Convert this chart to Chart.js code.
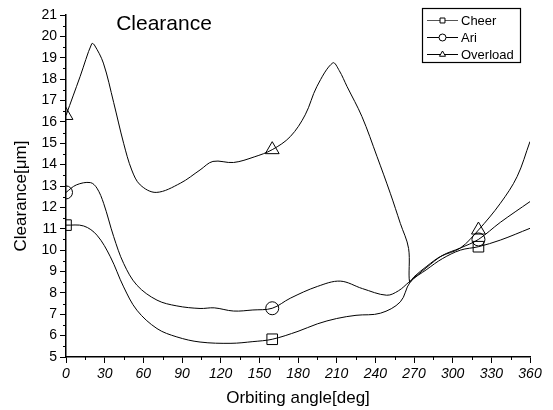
<!DOCTYPE html>
<html>
<head>
<meta charset="utf-8">
<script src="https://cdn.jsdelivr.net/npm/chart.js@4/dist/chart.umd.min.js"></script>
<style>
html,body{margin:0;padding:0;background:#fff;}
#wrap{width:553px;height:410px;position:relative;}
</style>
</head>
<body>
<div id="wrap"><canvas id="c" width="553" height="410"></canvas></div>
<script>
const seriesNames = ["Cheer", "Ari", "Overload"];
const markerAngles = [0, 160, 320];
const xTickValues = [0, 30, 60, 90, 120, 150, 180, 210, 240, 270, 300, 330, 360];
const yTickValues = [5, 6, 7, 8, 9, 10, 11, 12, 13, 14, 15, 16, 17, 18, 19, 20, 21];

const cheerAngles = [0, 13.7, 24, 34.4, 44.7, 55, 70.6, 86, 104, 128, 145, 160, 180, 195, 210, 225, 244, 259.4, 267, 280, 292, 306, 320, 337, 360];
const cheerValues = [11.17, 11.13, 10.7, 9.69, 8.28, 7.19, 6.33, 5.94, 5.7, 5.64, 5.72, 5.83, 6.2, 6.55, 6.8, 6.95, 7.05, 7.58, 8.5, 9.1, 9.6, 10.0, 10.16, 10.47, 11.02];

const ariAngles = [0, 8, 18.9, 24, 29.2, 37, 44.7, 55, 70.6, 86, 104, 115, 130, 145, 160, 174, 195, 212.8, 230, 248.8, 258, 266, 280, 292, 306, 320, 337, 360];
const ariValues = [12.7, 13.05, 13.16, 12.9, 12.19, 10.63, 9.38, 8.36, 7.66, 7.39, 7.27, 7.3, 7.15, 7.2, 7.28, 7.75, 8.3, 8.55, 8.2, 7.89, 8.1, 8.5, 9.2, 9.75, 10.1, 10.5, 11.3, 12.27];

const overloadAngles = [0, 11, 20, 22, 29, 37, 44.7, 51, 57.6, 70, 88.7, 104, 114, 130, 146, 160, 174, 185.6, 194.7, 207, 212, 218, 229.6, 241.3, 251.6, 259.4, 265.8, 266.6, 270, 280, 290.5, 306, 320, 337, 350, 360];
const overloadValues = [16.3, 18.13, 19.66, 19.6, 18.75, 16.9, 15.0, 13.75, 13.05, 12.7, 13.13, 13.75, 14.15, 14.1, 14.36, 14.7, 15.31, 16.33, 17.66, 18.76, 18.4, 17.66, 16.25, 14.38, 12.66, 11.25, 10.08, 8.5, 8.75, 9.25, 9.7, 10.1, 10.94, 12.19, 13.44, 15.08];

const pointStyles = ["rect", "circle", "triangle"];
const markerRadii = [7.5, 6.5, 8];

function toPts(xs, ys) { return xs.map((x, i) => ({ x: x, y: ys[i] })); }
const allAngles = [cheerAngles, ariAngles, overloadAngles];
const allValues = [cheerValues, ariValues, overloadValues];

const FONT = "'Liberation Sans', Arial, Helvetica, sans-serif";

const datasets = seriesNames.map((name, k) => ({
  label: name,
  data: toPts(allAngles[k], allValues[k]),
  borderColor: "#000",
  borderWidth: 1,
  backgroundColor: "rgba(0,0,0,0)",
  pointStyle: pointStyles[k],
  pointBorderColor: "#000",
  pointBackgroundColor: "rgba(0,0,0,0)",
  pointBorderWidth: 1,
  pointRadius: ctx => markerAngles.includes(ctx.raw && ctx.raw.x) ? markerRadii[k] : 0,
  pointHoverRadius: 0,
  tension: 0.35,
  fill: false
}));

const decor = {
  id: "decor",
  afterDraw(chart) {
    const ctx = chart.ctx;
    const xs = chart.scales.x, ys = chart.scales.y;
    const a = chart.chartArea;
    ctx.save();
    ctx.strokeStyle = "#000";
    ctx.lineWidth = 1;
    // minor ticks
    ctx.beginPath();
    for (let v = 15; v < 360; v += 30) {
      const px = Math.round(xs.getPixelForValue(v)) + 0.5;
      ctx.moveTo(px, a.bottom); ctx.lineTo(px, a.bottom + 3);
    }
    for (let v = 5.5; v < 21; v += 1) {
      const py = Math.round(ys.getPixelForValue(v)) + 0.5;
      ctx.moveTo(a.left, py); ctx.lineTo(a.left - 3, py);
    }
    ctx.stroke();
    // title
    ctx.fillStyle = "#000";
    ctx.font = "21px " + FONT;
    ctx.textAlign = "center";
    ctx.textBaseline = "alphabetic";
    ctx.fillText("Clearance", 164, 30);
    // x title
    ctx.font = "17px " + FONT;
    ctx.fillText("Orbiting angle[deg]", (a.left + a.right) / 2, 403);
    // y title
    ctx.save();
    ctx.translate(26, 196);
    ctx.rotate(-Math.PI / 2);
    ctx.fillText("Clearance[\u03bcm]", 0, 0);
    ctx.restore();
    // legend
    const bx = 422, by = 8, bw = 98, bh = 54;
    ctx.lineWidth = 1.2;
    ctx.strokeRect(bx + 0.5, by + 0.5, bw, bh);
    ctx.font = "13px " + FONT;
    ctx.textAlign = "left";
    ctx.textBaseline = "middle";
    seriesNames.forEach((name, k) => {
      const yy = by + 12 + k * 17;
      ctx.lineWidth = 1;
      ctx.strokeStyle = k === 0 ? "#555" : "#000";
      ctx.beginPath();
      ctx.moveTo(427, yy + 0.5); ctx.lineTo(458, yy + 0.5);
      ctx.stroke();
      ctx.strokeStyle = "#000";
      ctx.fillStyle = "#fff";
      Chart.helpers.drawPoint(ctx, { pointStyle: pointStyles[k], radius: 3.5, borderWidth: 1 }, 442.5, yy + 0.5);
      ctx.fillStyle = "#000";
      ctx.fillText(name, 461, yy + 1);
    });
    ctx.restore();
  }
};

new Chart(document.getElementById("c"), {
  type: "line",
  data: { datasets: datasets },
  options: {
    responsive: false,
    animation: false,
    devicePixelRatio: 1,
    layout: { padding: { top: 15, right: 23, left: 0, bottom: 0 } },
    plugins: { legend: { display: false }, title: { display: false }, tooltip: { enabled: false } },
    scales: {
      x: {
        type: "linear",
        min: 0, max: 360,
        afterBuildTicks: s => { s.ticks = xTickValues.map(v => ({ value: v })); },
        afterFit: s => { s.height = 53; },
        ticks: { color: "#000", font: { family: FONT, size: 14, style: "italic" }, padding: 3, maxRotation: 0, autoSkip: false },
        grid: { display: true, drawOnChartArea: false, drawTicks: true, tickLength: 6, color: "#000", lineWidth: 1 },
        border: { display: true, color: "#000", width: 1.5 }
      },
      y: {
        type: "linear",
        min: 5, max: 21,
        afterBuildTicks: s => { s.ticks = yTickValues.map(v => ({ value: v })); },
        afterFit: s => { s.width = 66; },
        ticks: { color: "#000", font: { family: FONT, size: 14 }, padding: 3, autoSkip: false },
        grid: { display: true, drawOnChartArea: false, drawTicks: true, tickLength: 6, color: "#000", lineWidth: 1 },
        border: { display: true, color: "#000", width: 1.5 }
      }
    }
  },
  plugins: [decor]
});
</script>
</body>
</html>
